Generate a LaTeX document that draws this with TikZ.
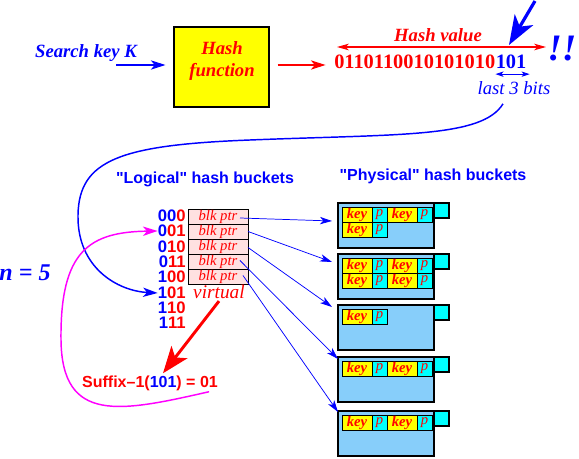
\documentclass[tikz,border=0pt]{standalone}
\usepackage{fontspec}
\setmainfont{Liberation Serif}
\setsansfont{Liberation Sans}
\usepackage{tikz}
\usetikzlibrary{positioning,calc,arrows.meta}

\tikzset{
  keyarrow/.style={color={rgb, 255:red, 0; green, 0; blue, 255 }, line width=0.8pt, -{Stealth[length=11pt,width=7pt,inset=3pt]}},
  hasharrow/.style={color={rgb, 255:red, 255; green, 0; blue, 0 }, line width=0.8pt, -{Stealth[length=11pt,width=7pt,inset=3pt]}},
  ptrarrow/.style={color={rgb, 255:red, 0; green, 0; blue, 255 }, line width=0.55pt, -{Stealth[length=9pt,width=5.5pt,inset=2.5pt]}},
  ptrcell/.style={draw, line width=0.7pt, fill={rgb, 255:red, 255; green, 225; blue, 225 }, minimum width=45pt, minimum height=11.25pt, inner sep=0pt, outer sep=0pt, text=red, font=\fontsize{11}{11}\selectfont\itshape},
  bitlabel/.style={anchor=east, inner sep=0pt, font=\sffamily\bfseries\fontsize{12.5}{12.5}\selectfont},
  bucket/.style={draw, line width=0.9pt, fill={rgb, 255:red, 135; green, 206; blue, 250 }, minimum width=72pt, minimum height=33.75pt, anchor=north west, inner sep=0pt, outer sep=0pt},
  tagbox/.style={draw, line width=0.9pt, fill={rgb, 255:red, 0; green, 255; blue, 255 }, minimum size=11.25pt, anchor=north west, inner sep=0pt, outer sep=0pt},
  keycell/.style={draw, line width=0.7pt, fill={rgb, 255:red, 255; green, 255; blue, 0 }, minimum width=22.5pt, minimum height=11.25pt, inner sep=0pt, outer sep=0pt, text=red, font=\fontsize{11}{11}\selectfont\bfseries\itshape},
  pcell/.style={draw, line width=0.7pt, fill={rgb, 255:red, 0; green, 255; blue, 255 }, minimum width=11.25pt, minimum height=11.25pt, inner sep=0pt, outer sep=0pt, text=red, font=\fontsize{11}{11}\selectfont\itshape},
  titletext/.style={text={rgb, 255:red, 0; green, 0; blue, 255 }, inner sep=0.75pt, font=\sffamily\bfseries\fontsize{12}{12}\selectfont}
}

\begin{document}
\begin{tikzpicture}[x=0.75pt,y=0.75pt,yscale=-1,xscale=1]
\useasboundingbox (0,0) rectangle (579,459);

% Text Node
\node [text=blue, inner sep=0.75pt, font=\fontsize{14}{16}\selectfont\bfseries\itshape] (skey) at (86,53) {Search key K};
%Shape: Rectangle
\node [draw, line width=0.8pt, fill={rgb, 255:red, 255; green, 255; blue, 0 }, minimum width=71.25pt, minimum height=60pt] (hbox) at (221.5,67) {};
% Text Node
\node [text=red, align=center, inner sep=0.75pt, font=\fontsize{14}{16.5}\selectfont\bfseries\itshape] (hfun) at (222,61) {Hash\\function};
%Straight Lines
\draw [keyarrow] ($(hbox.west)+(-57,-2)$) -- ($(hbox.west)+(-8,-2)$) ;
%Straight Lines
\draw [hasharrow] ($(hbox.east)+(8,-2)$) -- ($(hbox.east)+(56,-2)$) ;

% Text Node
\node [anchor=west, inner sep=0pt, text=red, font=\fontsize{15.3}{18}\selectfont\bfseries] (hv) at (334,62) {0110110010101010};
\node [anchor=west, inner sep=0pt, text=blue, font=\fontsize{15.3}{18}\selectfont\bfseries] (lsb) at (hv.east) {101};
% Text Node
\node [text=red, inner sep=0.75pt, font=\fontsize{14}{16}\selectfont\bfseries\itshape] (hval) at (438,35) {Hash value};
%Straight Lines
\coordinate (hvl) at (337,47);
\coordinate (hvr) at (546,47);
\draw [color=red, line width=0.8pt, {Stealth[length=9pt,width=5pt,inset=2.5pt]}-{Stealth[length=9pt,width=5pt,inset=2.5pt]}] (hvl) -- (hvr) ;
%Straight Lines
\coordinate (bigtail) at (535,1);
\coordinate (bigtip) at (509,45);
\draw [color=blue, line width=2.4pt, -{Stealth[length=22pt,width=16pt,inset=6pt]}] (bigtail) -- (bigtip) ;
% Text Node
\node [text=blue, inner sep=0pt, font=\fontsize{28}{30}\selectfont\bfseries\itshape] (bang) at (562,49) {!!};
%Straight Lines
\draw [color=blue, line width=0.6pt, {Stealth[length=6pt,width=4pt,inset=1.5pt]}-{Stealth[length=6pt,width=4pt,inset=1.5pt]}] ($(lsb.south west)+(0,5)$) -- ($(lsb.south east)+(3,5)$) ;
% Text Node
\node [text=blue, inner sep=0.75pt, font=\fontsize{14}{16}\selectfont\itshape] (l3b) at (514,88) {last 3 bits};

% Text Node
\node [titletext] (logt) at (205,179) {\textquotedbl Logical\textquotedbl{} hash buckets};
\node [titletext] (phyt) at (433,176) {\textquotedbl Physical\textquotedbl{} hash buckets};

%Shape: Rectangle
\node [ptrcell, anchor=north west] (b0) at (188,209) {blk ptr};
\node [ptrcell, below=0pt of b0] (b1) {blk ptr};
\node [ptrcell, below=0pt of b1] (b2) {blk ptr};
\node [ptrcell, below=0pt of b2] (b3) {blk ptr};
\node [ptrcell, below=0pt of b3] (b4) {blk ptr};
% Text Node
\node [text=red, inner sep=0.75pt, font=\fontsize{14.5}{16}\selectfont\itshape] (virt) at (219,292) {virtual};

% Text Node
\node [bitlabel] (l000) at (186,216) {\textcolor{blue}{00}\textcolor{red}{0}};
\node [bitlabel] (l001) at (186,231) {\textcolor{blue}{0}\textcolor{red}{01}};
\node [bitlabel] (l010) at (186,247) {\textcolor{blue}{0}\textcolor{red}{10}};
\node [bitlabel] (l011) at (186,262) {\textcolor{blue}{0}\textcolor{red}{11}};
\node [bitlabel] (l100) at (186,277) {\textcolor{blue}{1}\textcolor{red}{00}};
\node [bitlabel] (l101) at (186,293) {\textcolor{blue}{1}\textcolor{red}{01}};
\node [bitlabel] (l110) at (186,308) {\textcolor{blue}{1}\textcolor{red}{10}};
\node [bitlabel] (l111) at (186,323) {\textcolor{blue}{1}\textcolor{red}{11}};

% Text Node
\node [text=blue, inner sep=0.75pt, font=\fontsize{18}{20}\selectfont\bfseries\itshape] (nval) at (25,273) {n = 5};
% Text Node
\node [text=red, inner sep=0.75pt, font=\sffamily\bfseries\fontsize{12}{14}\selectfont] (sfx) at (150,383) {Suffix--1(\textcolor{blue}{101}) = 01};

%Curve Lines
\draw [keyarrow, line width=1.1pt] ($(l3b.south)+(-11,8)$) .. controls (482,138) and (400,134) .. (250,140) .. controls (120,145) and (79,160) .. (78,215) .. controls (77,268) and (118,291) .. (l101.west) ;
%Curve Lines
\draw [color={rgb, 255:red, 255; green, 0; blue, 255 }, line width=1.1pt, -{Stealth[length=11pt,width=7pt,inset=3pt]}] ($(sfx.south east)+(-10,0)$) .. controls (120,412) and (62,424) .. (61,340) .. controls (60,250) and (90,232) .. (l001.west) ;
%Straight Lines
\draw [color=red, line width=2.2pt, -{Stealth[length=20pt,width=15pt,inset=5pt]}] ($(virt.south)+(0,1)$) -- ($(sfx.north)+(13,-1)$) ;

%Shape: Rectangle
\node [bucket] (q1) at (338,203) {};
\node [tagbox] (t1) at (q1.north east) {};
\node [keycell, anchor=north west] (k1a) at (342,207) {key};
\node [pcell, right=0pt of k1a] (p1a) {p};
\node [keycell, right=0pt of p1a] (k1b) {key};
\node [pcell, right=0pt of k1b] (p1b) {p};
\node [keycell, below=0pt of k1a] (k1c) {key};
\node [pcell, right=0pt of k1c] (p1c) {p};
%Shape: Rectangle
\node [bucket] (q2) at (338,254) {};
\node [tagbox] (t2) at (q2.north east) {};
\node [keycell, anchor=north west] (k2a) at (342,258) {key};
\node [pcell, right=0pt of k2a] (p2a) {p};
\node [keycell, right=0pt of p2a] (k2b) {key};
\node [pcell, right=0pt of k2b] (p2b) {p};
\node [keycell, below=0pt of k2a] (k2c) {key};
\node [pcell, right=0pt of k2c] (p2c) {p};
\node [keycell, right=0pt of p2c] (k2d) {key};
\node [pcell, right=0pt of k2d] (p2d) {p};
%Shape: Rectangle
\node [bucket] (q3) at (338,305) {};
\node [tagbox] (t3) at (q3.north east) {};
\node [keycell, anchor=north west] (k3a) at (342,309) {key};
\node [pcell, right=0pt of k3a] (p3a) {p};
%Shape: Rectangle
\node [bucket] (q4) at (338,357) {};
\node [tagbox] (t4) at (q4.north east) {};
\node [keycell, anchor=north west] (k4a) at (342,361) {key};
\node [pcell, right=0pt of k4a] (p4a) {p};
\node [keycell, right=0pt of p4a] (k4b) {key};
\node [pcell, right=0pt of k4b] (p4b) {p};
%Shape: Rectangle
\node [bucket] (q5) at (338,411) {};
\node [tagbox] (t5) at (q5.north east) {};
\node [keycell, anchor=north west] (k5a) at (342,415) {key};
\node [pcell, right=0pt of k5a] (p5a) {p};
\node [keycell, right=0pt of p5a] (k5b) {key};
\node [pcell, right=0pt of k5b] (p5b) {p};

%Straight Lines
\draw [ptrarrow] ($(b0.east)+(-8,1.5)$) -- ($(q1.north west)+(-6,18)$) ;
\draw [ptrarrow] (b1.east) -- ($(q2.north west)+(-6,8)$) ;
\draw [ptrarrow] ($(b2.east)+(0,1)$) -- ($(q3.north west)+(-6,2)$) ;
\draw [ptrarrow] ($(b3.east)+(-8,-1)$) -- ($(q4.north west)+(0,2)$) ;
\draw [ptrarrow] ($(b4.east)+(-5,-1)$) -- ($(q5.north west)+(0,1)$) ;

\end{tikzpicture}
\end{document}
